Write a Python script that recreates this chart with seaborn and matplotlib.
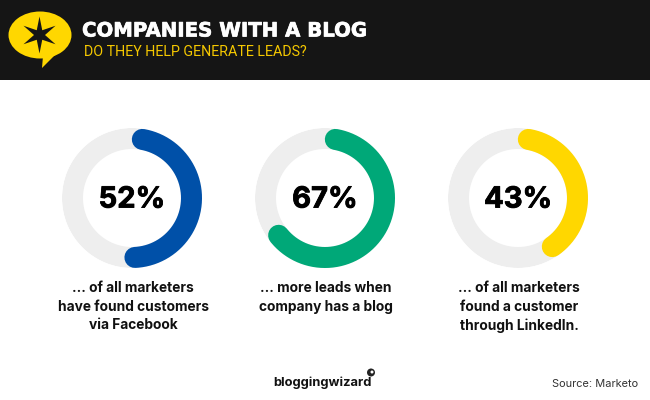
import numpy as np
import matplotlib
matplotlib.use("Agg")
import matplotlib.pyplot as plt
import matplotlib.font_manager as fm
import matplotlib.patheffects as pe
from matplotlib.patches import Ellipse, Polygon, Rectangle, Circle
import seaborn as sns

values = [52, 67, 43]
value_labels = ["52%", "67%", "43%"]
colors = ["#0050A8", "#00A878", "#FFD700"]
captions = ["... of all marketers\nhave found customers\nvia Facebook",
            "... more leads when\ncompany has a blog",
            "... of all marketers\nfound a customer\nthrough LinkedIn."]
title = "COMPANIES WITH A BLOG"
subtitle = "DO THEY HELP GENERATE LEADS?"
source = "Source: Marketo"
brand = "bloggingwizard"

sns.set_theme(style="white")
W, H = 650, 400
fig = plt.figure(figsize=(6.5, 4), dpi=100, facecolor="white")

installed = {f.name for f in fm.fontManager.ttflist}
narrow = "Liberation Sans Narrow" if "Liberation Sans Narrow" in installed else "Roboto"
sub_size = 13.0 if narrow != "Roboto" else 10.3

bg = fig.add_axes([0, 0, 1, 1])
bg.set_xlim(0, W); bg.set_ylim(H, 0); bg.axis("off")
bg.add_patch(Rectangle((0, 0), W, 80, color="#151515", lw=0))
bg.add_patch(Ellipse((40, 35), 63, 47, color="#FFD700", lw=0))
bg.add_patch(Polygon([[43, 56], [56, 54], [42, 68]], color="#FFD700", lw=0))
ang = np.deg2rad(np.arange(0, 360, 30))
rad = np.where(np.arange(12) % 2 == 0, 18.5, 5.5)
bg.add_patch(Polygon(np.c_[39.5 + rad * np.sin(ang), 35 - rad * np.cos(ang)], color="#151515", lw=0))
bg.text(82, 31, title, color="white", fontsize=14.2, fontweight="bold", family="DejaVu Sans", va="center",
        path_effects=[pe.withStroke(linewidth=0.5, foreground="white")])
bg.text(84, 51.5, subtitle, color="#F5C800", fontsize=sub_size, family=narrow, va="center")
bg.text(273, 383, brand, color="#111111", fontsize=9.3, fontweight="bold", family="Inter", va="center")
bg.add_patch(Circle((371, 372.5), 4, color="#222222", lw=0))
bg.add_patch(Circle((372, 372), 1.5, color="white", lw=0))
bg.text(638, 384, source, color="#333333", fontsize=7.9, family="Inter", va="center", ha="right")

centers = [132, 325, 518]
cy, R, ring = 198, 70, 21
lw_pt = ring * 72 / 100
for cx, v, lab, col, cap in zip(centers, values, value_labels, colors, captions):
    ax = fig.add_axes([(cx - R) / W, 1 - (cy + R) / H, 2 * R / W, 2 * R / H], projection="polar")
    ax.set_theta_zero_location("N"); ax.set_theta_direction(-1)
    ax.set_ylim(0, R); ax.axis("off"); ax.patch.set_alpha(0)
    r = R - ring / 2
    full = np.linspace(0, 2 * np.pi, 361)
    sns.lineplot(x=full, y=np.full_like(full, r), ax=ax, color="#EEEEEE", lw=lw_pt, legend=False, errorbar=None, sort=False)
    cap_deg = 10
    th = np.deg2rad(np.linspace(cap_deg, v * 3.6 - cap_deg, 200))
    ax.plot(th, np.full_like(th, r), color=col, lw=lw_pt, solid_capstyle="round", clip_on=False)
    ax.set_ylim(0, R)
    ax.annotate(lab, xy=(0, 0), xytext=(0, -1.5), textcoords="offset points", ha="center", va="center",
                fontsize=21, fontweight="bold", color="black", family="Inter",
                path_effects=[pe.withStroke(linewidth=0.6, foreground="black")])
    bg.text(cx + 1, 281.5, cap, ha="center", va="top", fontsize=9.9, fontweight="bold", color="#111111",
            family="Inter", linespacing=1.4)

fig.savefig("out.png", dpi=100, facecolor="white")
